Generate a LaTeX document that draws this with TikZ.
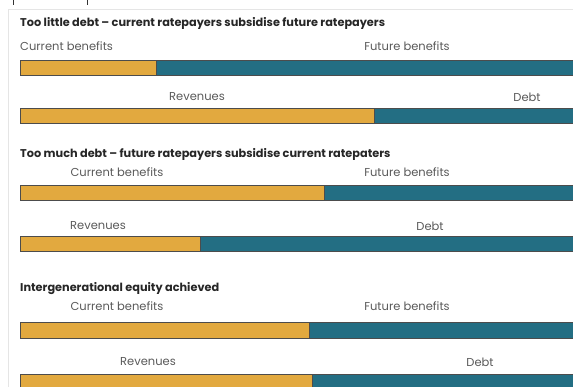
\documentclass[tikz,border=0pt]{standalone}
\usepackage{fontspec}
\setmainfont{Poppins}
\definecolor{bargold}{HTML}{E2A93F}
\definecolor{barteal}{HTML}{236E83}
\begin{document}
\begin{tikzpicture}[x=1pt,y=-1pt,
    now/.style={fill=bargold,draw=black!70,line width=0.7pt},
    later/.style={fill=barteal,draw=black!70,line width=0.7pt},
    lbl/.style={font=\fontsize{11.5}{12}\selectfont,text=black!65},
    ttl/.style={font=\bfseries\fontsize{11.3}{12}\selectfont,text=black!85,anchor=west,inner sep=0pt}]
\useasboundingbox (0,0) rectangle (573,387);
\draw[black!10] (8,387) -- (8,9) -- (573,9);
\draw[black!80,line width=1pt] (13,0) -- (13,5);
\draw[black!80,line width=1pt] (87,0) -- (87,5);
% too little debt
\node[ttl] (t1) at (20,23) {Too little debt -- current ratepayers subsidise future ratepayers};
\node[lbl,anchor=west,inner sep=0pt] (cb1) at (20,46) {Current benefits};
\node[lbl] (fb1) at (407,46) {Future benefits};
\draw[now] (20,60) rectangle (156,75);
\draw[later] (156,60) rectangle (580,75);
\node[lbl] (rv1) at (197,97) {Revenues};
\node[lbl] (db1) at (527,97) {Debt};
\draw[now] (20,108) rectangle (374,123);
\draw[later] (374,108) rectangle (580,123);
% too much debt
\node[ttl] (t2) at (20,154) {Too much debt -- future ratepayers subsidise current ratepaters};
\node[lbl] (cb2) at (117,172) {Current benefits};
\node[lbl] (fb2) at (407,172) {Future benefits};
\draw[now] (20,185) rectangle (324,200);
\draw[later] (324,185) rectangle (580,200);
\node[lbl] (rv2) at (98,226) {Revenues};
\node[lbl] (db2) at (430,226) {Debt};
\draw[now] (20,236) rectangle (200,251);
\draw[later] (200,236) rectangle (580,251);
% equity
\node[ttl] (t3) at (20,289) {Intergenerational equity achieved};
\node[lbl] (cb3) at (117,306) {Current benefits};
\node[lbl] (fb3) at (407,306) {Future benefits};
\draw[now] (20,322) rectangle (309,338);
\draw[later] (309,322) rectangle (580,338);
\node[lbl] (rv3) at (148,362) {Revenues};
\node[lbl] (db3) at (480,362) {Debt};
\draw[now] (20,374) rectangle (312,395);
\draw[later] (312,374) rectangle (580,395);
\end{tikzpicture}
\end{document}
